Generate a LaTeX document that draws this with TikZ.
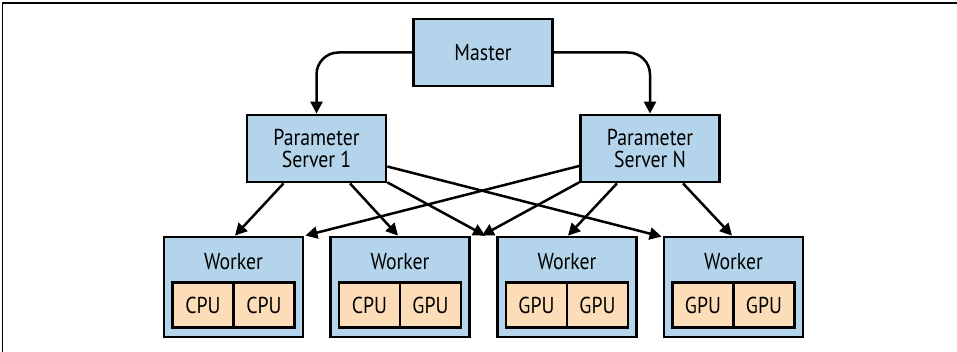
\documentclass[tikz,border=0pt]{standalone}
\usepackage{fontspec}
\setmainfont[FakeStretch=0.86]{PT Sans}
\usetikzlibrary{arrows.meta,calc}
\definecolor{boxblue}{HTML}{B3D4EA}
\definecolor{cellorange}{HTML}{FDDDB8}
\begin{document}
\begin{tikzpicture}[x=1pt,y=-1pt,
  bluebox/.style={draw=black,line width=2.8pt,fill=boxblue,inner sep=0pt,
    minimum width=139pt,minimum height=67pt,align=center,
    font=\fontsize{23}{22.5}\selectfont},
  workerbox/.style={draw=black,line width=2.8pt,fill=boxblue,inner sep=0pt,
    minimum width=139pt,minimum height=100pt},
  cellbox/.style={draw=black,line width=2.6pt,fill=cellorange,inner sep=0pt,
    minimum width=61pt,minimum height=45pt,font=\fontsize{23}{23}\selectfont},
  lbl/.style={inner sep=0pt,font=\fontsize{23}{23}\selectfont},
  conn/.style={line width=2.5pt,-{Triangle[length=12pt,width=12pt]}}]
\useasboundingbox (0,0) rectangle (957,352);
\draw[line width=1.5pt] (2.5,352) -- (2.5,3) -- (957,3);

\node[bluebox] (master) at (483,52.5) {Master};
\node[bluebox] (ps1) at (316.5,148.5) {Parameter\\Server 1};
\node[bluebox] (psn) at (650,148.5) {Parameter\\Server N};

\foreach \n/\x/\a/\b in {1/233.5/CPU/CPU,2/400/CPU/GPU,3/567/GPU/GPU,4/733.5/GPU/GPU}{
  \node[workerbox] (w\n) at (\x,287) {};
  \node[lbl] (wl\n) at (\x,262) {Worker};
  \node[cellbox] (c\n a) at (\x-30.5,305) {\a};
  \node[cellbox] (c\n b) at (\x+30.5,305) {\b};
}

\draw[conn,rounded corners=22pt] (master.west) -| (ps1.north);
\draw[conn,rounded corners=22pt] (master.east) -| (psn.north);

\draw[conn] ($(ps1.south)+(-33,0)$) -- ($(w1.north)+(1.5,0)$);
\draw[conn] ($(ps1.south)+(33.5,0)$) -- ($(w2.north)+(-2,0)$);
\draw[conn] ($(ps1.south east)+(0,-1)$) -- ($(w3.north west)+(-11,0)$);
\draw[conn] ($(ps1.east)+(0,18)$) -- ($(w4.north west)+(-1,1)$);
\draw[conn] ($(psn.west)+(0,17.5)$) -- ($(w1.north east)+(1,0)$);
\draw[conn] ($(psn.south west)+(0,-1)$) -- ($(w2.north east)+(11,0)$);
\draw[conn] ($(psn.south)+(-33,0)$) -- ($(w3.north)+(1,0)$);
\draw[conn] ($(psn.south)+(33,0)$) -- ($(w4.north)+(-1.5,0)$);
\end{tikzpicture}
\end{document}
